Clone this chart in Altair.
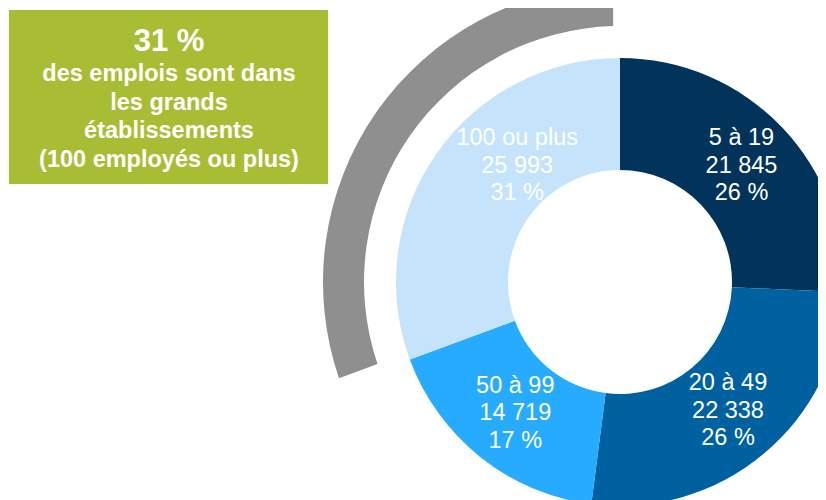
import altair as alt
import pandas as pd

# ---- data ----
categories = ["5 à 19", "20 à 49", "50 à 99", "100 ou plus"]
employees = [21845, 22338, 14719, 25993]
seg_colors = ["#02335A", "#0061A1", "#26ABFF", "#C5E4FC"]
box_headline = "31 %"
box_lines = ["des emplois sont dans", "les grands", "établissements", "(100 employés ou plus)"]

FONT = "Liberation Sans, Arial, sans-serif"
total = sum(employees)


def fr(v):
    return f"{v:,}".replace(",", " ")


df = pd.DataFrame({
    "cat": categories,
    "value": employees,
    "ord": list(range(len(categories))),
    "num": [fr(v) for v in employees],
    "pct": [f"{round(v * 100 / total)} %" for v in employees],
})
one = pd.DataFrame({"k": [0]})

CX, CY = 612, 274
LH = 27.5
theta = alt.Theta("value:Q", stack=True)
order = alt.Order("ord:Q", sort="ascending")
color = alt.Color("cat:N", scale=alt.Scale(domain=categories, range=seg_colors), legend=None)

donut = alt.Chart(df).mark_arc(innerRadius=112, outerRadius=224).encode(
    theta=theta, order=order, color=color, x=alt.value(CX), y=alt.value(CY)
)

highlight = alt.Chart(df).mark_arc(
    innerRadius=256, outerRadius=297, padAngle=0.035, color="#8F8F8F"
).encode(
    theta=theta, order=order, x=alt.value(CX), y=alt.value(CY),
    opacity=alt.condition("datum.ord == 3", alt.value(1), alt.value(0)),
)

labels = alt.Chart(df).transform_calculate(
    t="datum.ord < 3 ? [datum.cat, datum.num, datum.pct] : ''"
).mark_text(
    radius=168, fontSize=23.5, font=FONT, color="white", lineHeight=LH,
    baseline="middle", align="center", dy=-LH,
).encode(theta=theta, order=order, text="t:N", x=alt.value(CX), y=alt.value(CY))

labels_big = alt.Chart(df).transform_calculate(
    t="datum.ord == 3 ? [datum.cat, datum.num, datum.pct] : ''"
).mark_text(
    radius=168, fontSize=23.5, font=FONT, color="white", lineHeight=LH,
    baseline="middle", align="center", dx=35, dy=-20 - LH,
).encode(theta=theta, order=order, text="t:N", x=alt.value(CX), y=alt.value(CY))

box = alt.Chart(one).mark_rect(color="#A9BD34").encode(
    x=alt.value(1), x2=alt.value(320), y=alt.value(2), y2=alt.value(176)
)
head = alt.Chart(one).mark_text(
    fontSize=31, fontWeight="bold", font=FONT, color="white", baseline="middle", align="center"
).encode(x=alt.value(161), y=alt.value(34), text=alt.value(box_headline))
body = alt.Chart(one).mark_text(
    fontSize=23.5, fontWeight="bold", font=FONT, color="white", baseline="middle",
    align="center", lineHeight=28.5,
).encode(x=alt.value(161), y=alt.value(66), text=alt.value(box_lines))

chart = alt.layer(highlight, donut, labels, labels_big, box, head, body).properties(
    width=810, height=492, autosize=alt.AutoSizeParams(type="none"), padding=0,
    background="white",
).configure_view(stroke=None)

chart.save("out.html", embed_options={"renderer": "svg", "actions": False})
